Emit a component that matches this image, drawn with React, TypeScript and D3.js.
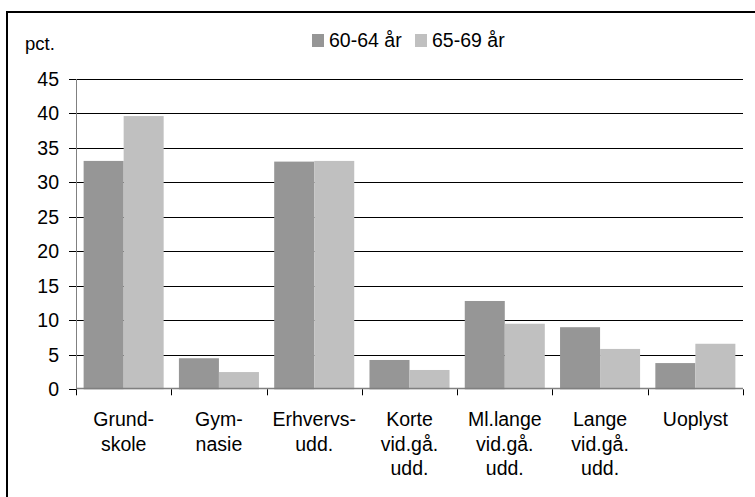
import React from "react";
import * as d3 from "d3";

const categories = ["Grundskole", "Gymnasie", "Erhvervsudd", "Korte", "Mllange", "Lange", "Uoplyst"];
const categoryLabels: string[][] = [
  ["Grund-", "skole"],
  ["Gym-", "nasie"],
  ["Erhvervs-", "udd."],
  ["Korte", "vid.gå.", "udd."],
  ["Ml.lange", "vid.gå.", "udd."],
  ["Lange", "vid.gå.", "udd."],
  ["Uoplyst"],
];
const seriesNames = ["60-64 år", "65-69 år"];
const values6064 = [33.1, 4.5, 33.0, 4.25, 12.8, 9.0, 3.8];
const values6569 = [39.6, 2.5, 33.1, 2.8, 9.5, 5.85, 6.6];
const yTicks = [0, 5, 10, 15, 20, 25, 30, 35, 40, 45];
const colors = ["#969696", "#c0c0c0"];

const W = 755;
const H = 497;
const FONT = "'Liberation Sans', Arial, sans-serif";

export default function App() {
  const left = 76;
  const right = 743;
  const y0 = 389.3;
  const yTop = 78.8;
  const y = d3.scaleLinear().domain([0, 45]).range([y0, yTop]);
  const x = d3.scaleBand<string>().domain(categories).range([left, right]).padding(0);
  const step = x.step();
  const pad = step * 0.08;
  const sub = d3.scaleBand<string>().domain(seriesNames).range([pad, step - pad]).padding(0);
  const series = [values6064, values6569];

  return (
    <svg width={W} height={H} style={{ position: "absolute", left: 0, top: 0, background: "#fff" }}>
      <rect x={0} y={0} width={W} height={H} fill="#fff" />
      {/* frame */}
      <line x1={7} y1={12} x2={W} y2={12} stroke="#000" strokeWidth={2} />
      <line x1={7} y1={11} x2={7} y2={H} stroke="#000" strokeWidth={2} />

      {/* gridlines */}
      {yTicks.filter((t) => t > 0).map((t) => (
        <line key={"g" + t} x1={left} x2={right} y1={Math.round(y(t)) + 0.5} y2={Math.round(y(t)) + 0.5} stroke="#000" strokeWidth={1} />
      ))}

      {/* bars */}
      {series.map((vals, si) =>
        vals.map((v, i) => (
          <rect
            key={"b" + si + "-" + i}
            x={(x(categories[i]) as number) + (sub(seriesNames[si]) as number)}
            y={y(v)}
            width={sub.bandwidth()}
            height={y0 - y(v)}
            fill={colors[si]}
          />
        ))
      )}

      {/* y axis */}
      <line x1={left + 0.5} x2={left + 0.5} y1={Math.round(y(45))} y2={y0} stroke="#808080" strokeWidth={1} />
      {yTicks.map((t) => (
        <g key={"yt" + t}>
          <line x1={left - 7} x2={left} y1={Math.round(y(t)) + 0.5} y2={Math.round(y(t)) + 0.5} stroke="#000" strokeWidth={1} />
          <text x={59} y={y(t) + 7} textAnchor="end" fontFamily={FONT} fontSize={19.5} fill="#000">
            {t}
          </text>
        </g>
      ))}

      {/* x axis */}
      <line x1={left} x2={right} y1={Math.round(y0) - 0.5} y2={Math.round(y0) - 0.5} stroke="#808080" strokeWidth={1.5} />
      {categories.concat(["end"]).map((c, i) => {
        const xx = left + i * step;
        return (
          <line key={"xt" + i} x1={Math.round(xx) + 0.5} x2={Math.round(xx) + 0.5} y1={y0} y2={y0 + 6} stroke="#000" strokeWidth={1} />
        );
      })}
      {categories.map((c, i) => (
        <text key={"xl" + c} textAnchor="middle" fontFamily={FONT} fontSize={19.5} fill="#000">
          {categoryLabels[i].map((line, li) => (
            <tspan key={li} x={(x(c) as number) + step / 2} y={426 + li * 24.5}>
              {line}
            </tspan>
          ))}
        </text>
      ))}

      {/* axis title */}
      <text x={25} y={50} fontFamily={FONT} fontSize={18.5} fill="#000">
        pct.
      </text>

      {/* legend */}
      {seriesNames.map((s, i) => {
        const lx = i === 0 ? 312 : 415;
        return (
          <g key={"lg" + s}>
            <rect x={lx} y={34} width={12} height={13} fill={colors[i]} />
            <text x={lx + 17} y={47} fontFamily={FONT} fontSize={19.5} fill="#000">
              {s}
            </text>
          </g>
        );
      })}
    </svg>
  );
}
